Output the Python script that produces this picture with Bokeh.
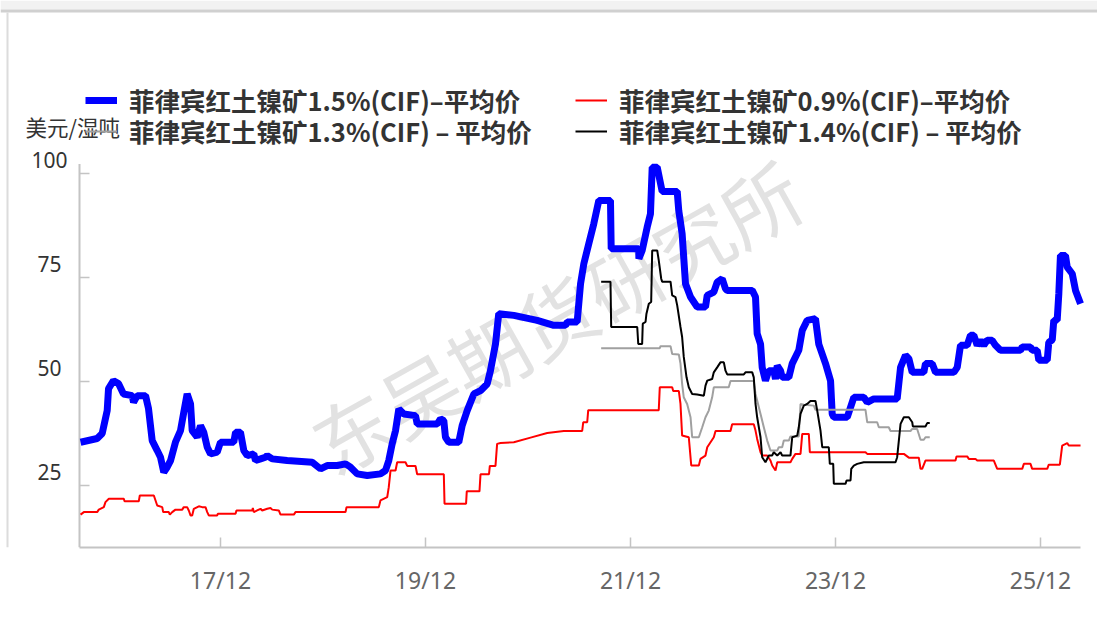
from bokeh.plotting import figure
from bokeh.models import Range1d, FixedTicker, Legend, LegendItem
from bokeh.core.properties import value
from bokeh.embed import file_html
from bokeh.resources import INLINE

# ---- data (x = decimal year) ----
ni15_x = [2016.552, 2016.714, 2016.763, 2016.812, 2016.825, 2016.873, 2016.922, 2016.971, 2017.056, 2017.069,
          2017.105, 2017.186, 2017.215, 2017.251, 2017.300, 2017.332, 2017.364, 2017.397, 2017.430, 2017.478,
          2017.527, 2017.559, 2017.592, 2017.625, 2017.641, 2017.690, 2017.722, 2017.754, 2017.788, 2017.820,
          2017.885, 2017.917, 2018.047, 2018.064, 2018.112, 2018.145, 2018.178, 2018.242, 2018.259, 2018.308,
          2018.356, 2018.373, 2018.422, 2018.568, 2018.812, 2018.893, 2018.958, 2019.056, 2019.137, 2019.186,
          2019.251, 2019.349, 2019.478, 2019.527, 2019.559, 2019.592, 2019.625, 2019.657, 2019.706, 2019.820,
          2019.836, 2020.032, 2020.064, 2020.096, 2020.112, 2020.145, 2020.242, 2020.275, 2020.324, 2020.389,
          2020.454, 2020.519, 2020.551, 2020.600, 2020.632, 2020.779, 2021.007, 2021.169, 2021.283, 2021.300,
          2021.397, 2021.430, 2021.462, 2021.510, 2021.559, 2021.608, 2021.722, 2021.729, 2021.998, 2021.999,
          2022.031, 2022.080, 2022.112, 2022.129, 2022.178, 2022.226, 2022.373, 2022.388, 2022.421, 2022.454,
          2022.503, 2022.568, 2022.649, 2022.666, 2022.730, 2022.763, 2022.812, 2022.844, 2022.861, 2023.105,
          2023.137, 2023.153, 2023.186, 2023.202, 2023.234, 2023.267, 2023.315, 2023.332, 2023.349, 2023.381,
          2023.397, 2023.462, 2023.495, 2023.559, 2023.593, 2023.641, 2023.722, 2023.754, 2023.820, 2023.869,
          2023.885, 2023.901, 2024.032, 2024.080, 2024.096, 2024.193, 2024.227, 2024.291, 2024.519, 2024.552,
          2024.600, 2024.633, 2024.666, 2024.779, 2024.795, 2024.861, 2024.893, 2025.072, 2025.105, 2025.137,
          2025.202, 2025.234, 2025.267, 2025.300, 2025.332, 2025.364, 2025.397, 2025.446, 2025.478, 2025.527,
          2025.722, 2025.739, 2025.820, 2025.836, 2025.885, 2025.901, 2025.983, 2025.998, 2026.032, 2026.047,
          2026.080, 2026.096, 2026.112, 2026.161, 2026.178, 2026.227, 2026.259, 2026.308]
ni15_y = [35.4, 36.3, 37.5, 43.0, 48.3, 50.2, 49.5, 47.0, 46.6, 45.0,
          46.6, 46.6, 43.5, 35.8, 33.4, 31.8, 28.2, 29.4, 31.0, 35.4,
          38.2, 42.6, 47.0, 44.6, 38.2, 36.6, 39.4, 37.8, 34.2, 32.6,
          33.0, 35.4, 35.4, 37.8, 37.8, 33.4, 32.2, 32.6, 31.0, 31.4,
          31.8, 32.2, 31.4, 31.0, 30.6, 29.0, 29.8, 29.8, 30.2, 29.4,
          27.8, 27.4, 27.8, 28.6, 31.0, 35.0, 38.2, 43.4, 42.2, 41.8,
          39.8, 39.8, 41.0, 40.6, 36.6, 35.4, 35.4, 39.4, 43.0, 47.0,
          47.8, 49.4, 52.6, 59.0, 66.3, 65.9, 64.7, 63.5, 63.5, 64.3,
          64.3, 73.5, 78.3, 83.1, 87.9, 93.5, 93.5, 81.9, 81.9, 79.5,
          81.5, 87.1, 90.3, 101.5, 101.5, 95.7, 95.7, 91.1, 85.5, 73.5,
          70.3, 67.9, 67.9, 70.7, 71.5, 73.9, 74.7, 72.3, 71.9, 71.9,
          70.3, 61.5, 59.0, 53.4, 50.2, 52.6, 52.6, 50.6, 53.8, 52.6,
          51.0, 51.0, 54.3, 57.5, 62.3, 64.7, 65.1, 59.0, 54.3, 50.2,
          42.2, 41.4, 41.4, 45.0, 46.2, 46.2, 45.0, 45.8, 45.8, 53.4,
          56.3, 55.5, 52.2, 52.2, 54.3, 54.3, 52.2, 52.2, 53.4, 58.7,
          58.7, 61.1, 61.1, 58.7, 59.9, 58.7, 59.9, 59.9, 58.7, 57.5,
          57.5, 58.3, 58.3, 57.5, 57.5, 55.1, 55.1, 59.4, 60.0, 64.7,
          64.7, 71.1, 80.3, 80.3, 77.5, 75.9, 71.9, 68.7]

ni09_x = [2016.552, 2016.584, 2016.714, 2016.730, 2016.779, 2016.795, 2016.828, 2016.974, 2016.981, 2017.120,
          2017.130, 2017.267, 2017.300, 2017.349, 2017.358, 2017.413, 2017.423, 2017.446, 2017.478, 2017.544,
          2017.559, 2017.592, 2017.608, 2017.625, 2017.641, 2017.657, 2017.706, 2017.739, 2017.771, 2017.788,
          2017.803, 2017.885, 2017.891, 2018.064, 2018.073, 2018.227, 2018.233, 2018.242, 2018.275, 2018.308,
          2018.324, 2018.373, 2018.405, 2018.422, 2018.486, 2018.503, 2018.633, 2018.649, 2019.137, 2019.147,
          2019.462, 2019.478, 2019.544, 2019.559, 2019.576, 2019.625, 2019.641, 2019.722, 2019.739, 2019.820,
          2019.836, 2020.096, 2020.103, 2020.313, 2020.320, 2020.444, 2020.454, 2020.537, 2020.545, 2020.600,
          2020.616, 2020.649, 2020.779, 2020.942, 2021.105, 2021.267, 2021.446, 2021.456, 2021.495, 2021.505,
          2022.193, 2022.203, 2022.324, 2022.334, 2022.389, 2022.405, 2022.421, 2022.486, 2022.510, 2022.584,
          2022.600, 2022.649, 2022.666, 2022.730, 2022.747, 2022.893, 2022.909, 2023.120, 2023.137, 2023.153,
          2023.186, 2023.202, 2023.251, 2023.283, 2023.300, 2023.332, 2023.349, 2023.478, 2023.495, 2023.527,
          2023.576, 2023.593, 2023.657, 2023.667, 2024.210, 2024.227, 2024.584, 2024.633, 2024.730, 2024.747,
          2024.763, 2024.795, 2025.088, 2025.098, 2025.202, 2025.218, 2025.283, 2025.300, 2025.462, 2025.495,
          2025.739, 2025.755, 2025.820, 2025.836, 2025.983, 2025.998, 2026.106, 2026.129, 2026.178, 2026.193,
          2026.308]
ni09_y = [18.0, 18.6, 18.6, 19.2, 19.8, 21.0, 21.8, 21.8, 21.2, 21.2,
          22.6, 22.6, 20.2, 19.8, 18.6, 18.6, 18.0, 18.6, 19.2, 19.2,
          19.8, 19.8, 19.0, 17.8, 17.8, 19.4, 20.0, 19.8, 19.8, 18.6,
          17.8, 17.8, 18.2, 18.2, 19.0, 19.0, 19.6, 18.6, 19.0, 19.4,
          19.0, 19.4, 19.6, 19.2, 19.0, 18.0, 18.0, 18.6, 18.6, 19.8,
          19.8, 21.4, 22.2, 24.6, 28.6, 28.6, 30.6, 30.6, 29.7, 29.7,
          27.7, 27.7, 20.6, 20.6, 23.6, 23.6, 27.7, 27.7, 29.7, 29.7,
          35.0, 35.2, 35.4, 36.5, 37.6, 38.1, 38.1, 40.2, 40.2, 43.1,
          43.1, 48.6, 48.6, 47.7, 47.7, 44.6, 37.0, 36.6, 29.8, 29.8,
          31.4, 32.2, 34.2, 36.6, 38.1, 38.1, 39.7, 39.7, 38.2, 36.2,
          33.0, 32.2, 32.2, 31.0, 29.8, 28.6, 30.6, 30.6, 31.4, 32.6,
          32.6, 37.4, 37.4, 33.0, 33.0, 32.6, 32.6, 31.7, 31.7, 29.0,
          29.0, 31.0, 31.0, 32.0, 32.0, 31.4, 31.4, 31.0, 31.0, 29.0,
          29.0, 30.2, 30.2, 29.0, 29.0, 30.0, 30.0, 34.6, 35.2, 34.6,
          34.6]

ni13_x = [2021.631, 2022.203, 2022.210, 2022.308, 2022.324, 2022.389, 2022.405, 2022.421, 2022.437, 2022.470,
          2022.503, 2022.519, 2022.584, 2022.617, 2022.649, 2022.681, 2022.714, 2022.730, 2022.876, 2022.893,
          2023.120, 2023.137, 2023.186, 2023.218, 2023.251, 2023.283, 2023.349, 2023.364, 2023.397, 2023.413,
          2023.462, 2023.478, 2023.559, 2023.576, 2023.608, 2023.706, 2023.722, 2024.210, 2024.227, 2024.324,
          2024.340, 2024.437, 2024.454, 2024.649, 2024.666, 2024.714, 2024.747, 2024.779, 2024.795, 2024.837]
ni13_y = [58.0, 58.0, 58.5, 58.5, 56.6, 56.5, 54.3, 49.4, 46.2, 44.6,
          41.4, 36.6, 36.6, 39.0, 41.4, 43.0, 46.2, 48.6, 48.6, 50.1,
          50.1, 47.0, 42.2, 39.0, 35.8, 33.4, 33.4, 34.2, 34.2, 35.8,
          35.8, 36.8, 36.8, 44.6, 44.4, 44.2, 43.2, 43.2, 40.2, 40.2,
          39.0, 39.0, 38.1, 38.1, 38.6, 38.6, 36.0, 36.0, 36.6, 36.6]

ni14_x = [2021.631, 2021.722, 2021.729, 2021.983, 2021.993, 2022.031, 2022.037, 2022.064, 2022.073, 2022.096,
          2022.119, 2022.129, 2022.178, 2022.193, 2022.217, 2022.226, 2022.308, 2022.324, 2022.356, 2022.373,
          2022.405, 2022.421, 2022.437, 2022.464, 2022.486, 2022.519, 2022.568, 2022.633, 2022.649, 2022.666,
          2022.714, 2022.730, 2022.763, 2022.795, 2022.828, 2022.844, 2022.861, 2023.023, 2023.039, 2023.105,
          2023.120, 2023.137, 2023.153, 2023.186, 2023.202, 2023.234, 2023.267, 2023.299, 2023.315, 2023.349,
          2023.381, 2023.397, 2023.478, 2023.495, 2023.544, 2023.559, 2023.576, 2023.608, 2023.641, 2023.673,
          2023.722, 2023.739, 2023.771, 2023.788, 2023.852, 2023.862, 2023.895, 2023.901, 2024.015, 2024.025,
          2024.064, 2024.071, 2024.096, 2024.129, 2024.193, 2024.503, 2024.519, 2024.552, 2024.584, 2024.633,
          2024.666, 2024.672, 2024.795, 2024.812, 2024.837]
ni14_y = [74.0, 74.0, 63.1, 63.1, 59.0, 59.0, 63.9, 64.3, 66.3, 68.7,
          69.1, 81.5, 81.5, 79.1, 74.7, 74.0, 74.0, 70.7, 70.3, 68.3,
          63.1, 60.7, 55.9, 51.0, 48.6, 47.0, 46.9, 46.6, 49.0, 50.2,
          50.6, 52.2, 53.4, 54.6, 54.6, 52.6, 51.7, 51.7, 52.2, 52.2,
          51.0, 44.6, 41.4, 36.6, 31.8, 30.6, 32.2, 32.2, 33.0, 32.2,
          33.0, 32.2, 32.2, 36.6, 37.0, 39.0, 42.2, 44.2, 44.6, 45.3,
          45.3, 43.0, 38.2, 34.2, 34.2, 30.2, 30.2, 25.4, 25.4, 26.2,
          26.2, 29.0, 29.8, 30.2, 30.6, 30.6, 31.8, 39.8, 41.4, 41.4,
          40.2, 39.2, 39.2, 40.0, 40.0]

series_names = ["菲律宾红土镍矿1.5%(CIF)–平均价", "菲律宾红土镍矿0.9%(CIF)–平均价",
                "菲律宾红土镍矿1.3%(CIF) – 平均价", "菲律宾红土镍矿1.4%(CIF) – 平均价"]
x_tick_pos = [2017.917, 2019.917, 2021.917, 2023.917, 2025.917]
x_tick_labels = ["17/12", "19/12", "21/12", "23/12", "25/12"]
y_ticks = [25, 50, 75, 100]
y_tick_labels = ["25", "50", "75", "100"]
unit_text = "美元/湿吨"
watermark = "东吴期货研究所"

# ---- geometry / style constants ----
CJK = "Noto Sans CJK SC"
AXIS_COLOR = "#c4c4c4"
PX_PER_YEAR = 102.5
PX_PER_UNIT = 4.16
W, H = 1097, 622
FRAME_BOTTOM_PX = 547                       # page y of the x-axis
X0 = 2015.771                               # page x = 0
X1 = X0 + W / PX_PER_YEAR                   # page x = W
Y0 = (589 - FRAME_BOTTOM_PX) / PX_PER_UNIT  # value at the x-axis
Y1 = 589 / PX_PER_UNIT                      # value at page y = 0
AXIS_X = X0 + 79 / PX_PER_YEAR              # y-axis position
AXIS_TOP = 102.3
DATA_END = 2026.308


def px_y(py):
    return (589 - py) / PX_PER_UNIT


p = figure(width=W, height=H, output_backend="svg", toolbar_location=None,
           x_range=Range1d(X0, X1), y_range=Range1d(Y0, Y1), y_axis_location=None,
           min_border_left=0, min_border_right=0, min_border_top=0,
           min_border_bottom=H - FRAME_BOTTOM_PX)
p.grid.visible = False
p.outline_line_color = None
p.background_fill_color = "white"
p.border_fill_color = "white"

# page chrome: grey band + rule on top, faint rule on the left
p.quad(left=[X0], right=[X1], bottom=[px_y(9)], top=[Y1], fill_color="#f2f2f2", line_color=None)
p.line(x=[X0, X1], y=[px_y(10.5)] * 2, line_color="#d0d0d0", line_width=3)
p.line(x=[X0 + 7 / PX_PER_YEAR] * 2, y=[Y0, px_y(12)], line_color="#dcdcdc", line_width=2)

# watermark (behind the lines)
p.text(x=[2021.186], y=[65.9], text=[watermark], angle=0.51,
       text_align="center", text_baseline="middle",
       text_font=value(CJK), text_font_size="78px", text_color="#e2e2e2")

# hand-drawn y axis: line, inward ticks, centred labels above each tick
p.segment(x0=[AXIS_X], y0=[Y0], x1=[AXIS_X], y1=[AXIS_TOP], line_color=AXIS_COLOR, line_width=2)
p.segment(x0=[AXIS_X] * len(y_ticks), y0=y_ticks,
          x1=[AXIS_X + 10 / PX_PER_YEAR] * len(y_ticks), y1=y_ticks,
          line_color=AXIS_COLOR, line_width=1.5)
p.text(x=[AXIS_X - 30 / PX_PER_YEAR] * len(y_ticks), y=[v + 13.5 / PX_PER_UNIT for v in y_ticks],
       text=y_tick_labels, text_align="center", text_baseline="middle",
       text_font=value("Noto Sans"), text_font_size="21px", text_color="#333333")

# unit text
p.text(x=[X0 + 25 / PX_PER_YEAR], y=[px_y(126)], text=[unit_text], text_align="left",
       text_baseline="middle", text_font=value(CJK), text_font_size="21.5px", text_color="#333333")

r15 = p.line(ni15_x, ni15_y, line_color="#0000ff", line_width=7)
r09 = p.line(ni09_x, ni09_y, line_color="#ff0000", line_width=2)
r13 = p.line(ni13_x, ni13_y, line_color="#a0a0a0", line_width=2)
r14 = p.line(ni14_x, ni14_y, line_color="#000000", line_width=2)

# x axis
xa = p.xaxis[0]
xa.ticker = FixedTicker(ticks=x_tick_pos)
xa.major_label_overrides = {t: l for t, l in zip(x_tick_pos, x_tick_labels)}
xa.bounds = (AXIS_X, DATA_END)
xa.axis_line_color = AXIS_COLOR
xa.axis_line_width = 2
xa.major_tick_line_color = AXIS_COLOR
xa.major_tick_line_width = 1.5
xa.major_tick_in = 10
xa.major_tick_out = 0
xa.minor_tick_line_color = None
xa.major_label_standoff = 16
xa.major_label_text_font = "Noto Sans"
xa.major_label_text_font_size = "23px"
xa.major_label_text_color = "#666666"

# legend: 2x2 grid, one single-item legend per cell (frame pixels from bottom-left)
leg_kw = dict(border_line_color=None, background_fill_alpha=0, padding=0, margin=0,
              spacing=0, glyph_width=32, glyph_height=28, label_height=28, label_standoff=12,
              label_text_font=CJK, label_text_font_style="bold", label_text_font_size="25.5px",
              label_text_color="#333333")
legend_cells = [(r15, series_names[0], (85, 429)), (r09, series_names[1], (575, 429)),
                (r13, series_names[2], (85, 398)), (r14, series_names[3], (575, 398))]
for rend, name, loc in legend_cells:
    p.add_layout(Legend(items=[LegendItem(label=name, renderers=[rend])], location=loc, **leg_kw))

open("out.html", "w").write(file_html(p, INLINE))
